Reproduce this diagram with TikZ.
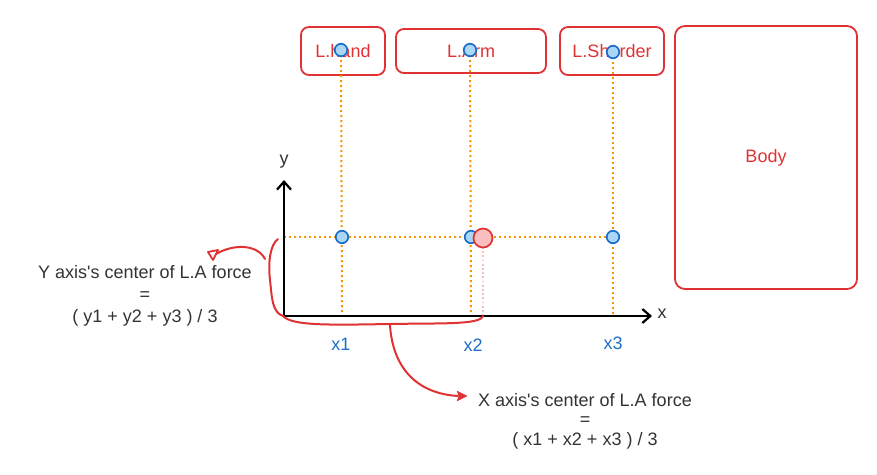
\documentclass[tikz,border=0pt]{standalone}
\usepackage{fontspec}
\setmainfont{Liberation Sans}
\usetikzlibrary{arrows.meta}
\definecolor{rd}{RGB}{224,50,50}
\definecolor{og}{RGB}{245,150,0}
\definecolor{bl}{RGB}{30,110,200}
\definecolor{blf}{RGB}{170,215,245}
\definecolor{pk}{RGB}{250,190,190}
\definecolor{tx}{RGB}{51,51,51}
\tikzset{
  part/.style={draw=rd,line width=1.8pt,rounded corners=8pt,text=rd,font=\fontsize{18}{22}\selectfont,inner sep=0pt},
  dot/.style={circle,draw=bl,fill=blf,line width=1.7pt,minimum size=12.5pt,inner sep=0pt},
  guide/.style={og,line width=2pt,dash pattern=on 2pt off 3pt},
  lbl/.style={text=bl,font=\fontsize{18}{22}\selectfont},
  note/.style={text=tx,font=\fontsize{18}{22}\selectfont,align=center},
  hand/.style={rd,line width=2pt,line cap=round,line join=round},
  axis/.style={black,line width=2.2pt,-{Straight Barb[length=8pt,width=14pt,line width=2.2pt]}}
}
\begin{document}
\begin{tikzpicture}[x=1pt,y=-1pt]
\useasboundingbox (0,0) rectangle (877,474);
% boxes
\node[part,minimum width=84pt,minimum height=48pt] (hand) at (343,51) {L.hand};
\node[part,minimum width=150pt,minimum height=44pt] (arm) at (471,51) {L.Arm};
\node[part,minimum width=104pt,minimum height=48pt] (shoulder) at (612,51) {L.Shorder};
\node[part,minimum width=182pt,minimum height=263pt,rounded corners=10pt] (body) at (766,157.5) {Body};
% origin and axis ends
\coordinate (O) at (284,316);
\coordinate (yend) at (284,180);
\coordinate (xend) at (652,316);
\node[text=tx,font=\fontsize{18}{22}\selectfont] (ylab) at (284,162) {y};
\node[text=tx,font=\fontsize{18}{22}\selectfont] (xlab) at (662,314) {x};
% axis-level coordinates
\coordinate (b1) at (342,316);
\coordinate (b2) at (471,316);
\coordinate (b3) at (613,316);
\coordinate (ly) at (284,237);
% guides
\draw[guide] (341,50) -- (b1);
\draw[guide] (470,50) -- (b2);
\draw[guide] (613,52) -- (b3);
\draw[guide] (ly) -- (613,237);
\draw[pk,line width=1.7pt,dash pattern=on 1.7pt off 2.5pt] (483,247) -- (483,316);
% axes
\draw[axis] (O) -- (yend);
\draw[axis] (O) -- (xend);
% top dots
\node[dot] (t1) at (341,50) {};
\node[dot] (t2) at (470,50) {};
\node[dot] (t3) at (613,52) {};
% row dots
\node[dot] (p1) at (342,237) {};
\node[dot] (p2) at (471,237) {};
\node[dot] (p3) at (613,237) {};
\node[circle,draw=rd,fill=pk,line width=1.7pt,minimum size=19pt,inner sep=0pt] (c) at (483,238) {};
% x labels
\node[lbl] (x1) at (341,344) {x1};
\node[lbl] (x2) at (473,345) {x2};
\node[lbl] (x3) at (613,343) {x3};
% hand drawn brackets
\draw[hand] (278,239) .. controls (270,245) and (268,262) .. (270,280) .. controls (272,298) and (272,312) .. (283,316);
\draw[hand] (265,259) .. controls (258,245) and (235,243) .. (216,254);
\draw[rd,line width=1.8pt,fill=white,line join=round] (208,252) -- (218,250) -- (213,260) -- cycle;
\draw[hand] (283,316) .. controls (292,326) and (330,325) .. (390,324) .. controls (440,323) and (480,325) .. (483,316);
\draw[hand] (390,325) .. controls (392,360) and (410,393) .. (458,396);
\draw[rd,fill=rd,line join=round] (467,396) -- (457,391) -- (459,396) -- (457,401) -- cycle;
% notes
\node[note] (ynote) at (145,296) {Y axis\textquotesingle s center of L.A force\\=\\( y1 + y2 + y3 ) / 3};
\node[note] (xnote) at (585,421) {X axis\textquotesingle s center of L.A force\\[-2.5pt]=\\[-2.5pt]( x1 + x2 + x3 ) / 3};
\end{tikzpicture}
\end{document}
